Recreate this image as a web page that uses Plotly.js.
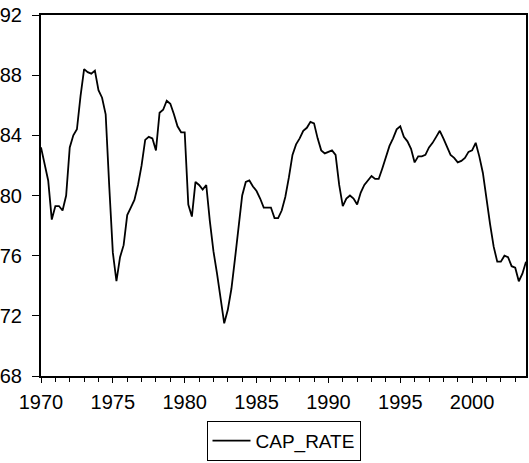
<!DOCTYPE html>
<html>
<head>
<meta charset="utf-8">
<script src="https://cdn.plot.ly/plotly-3.0.1.min.js"></script>
<style>html,body{margin:0;padding:0;background:#fff;}#chart{width:529px;height:463px;}</style>
</head>
<body>
<div id="chart"></div>
<script>
// Quarterly CAP_RATE, 1970Q1 .. 2003Q4
const startYear = 1970;
const seriesName = "CAP_RATE";
const capRate = [
  83.2, 82.2, 81.0, 78.4,   // 1970
  79.3, 79.3, 79.0, 80.0,   // 1971
  83.2, 84.0, 84.4, 86.6,   // 1972
  88.4, 88.2, 88.1, 88.3,   // 1973
  87.0, 86.5, 85.4, 80.6,   // 1974
  76.2, 74.3, 75.9, 76.7,   // 1975
  78.7, 79.2, 79.7, 80.7,   // 1976
  82.0, 83.7, 83.9, 83.8,   // 1977
  83.0, 85.5, 85.7, 86.3,   // 1978
  86.1, 85.4, 84.6, 84.2,   // 1979
  84.2, 79.4, 78.6, 80.9,   // 1980
  80.7, 80.4, 80.7, 78.3,   // 1981
  76.3, 74.8, 73.2, 71.5,   // 1982
  72.4, 73.8, 75.8, 78.1,   // 1983
  80.0, 80.9, 81.0, 80.6,   // 1984
  80.3, 79.8, 79.2, 79.2,   // 1985
  79.2, 78.5, 78.5, 79.0,   // 1986
  79.9, 81.2, 82.7, 83.4,   // 1987
  83.8, 84.3, 84.5, 84.9,   // 1988
  84.8, 83.8, 83.0, 82.8,   // 1989
  82.9, 83.0, 82.7, 80.7,   // 1990
  79.3, 79.8, 80.0, 79.8,   // 1991
  79.4, 80.2, 80.7, 81.0,   // 1992
  81.3, 81.1, 81.1, 81.8,   // 1993
  82.6, 83.3, 83.8, 84.4,   // 1994
  84.6, 83.9, 83.6, 83.1,   // 1995
  82.2, 82.6, 82.6, 82.7,   // 1996
  83.2, 83.5, 83.9, 84.3,   // 1997
  83.8, 83.3, 82.7, 82.5,   // 1998
  82.2, 82.3, 82.5, 82.9,   // 1999
  83.0, 83.5, 82.6, 81.5,   // 2000
  79.7, 78.1, 76.6, 75.6,   // 2001
  75.6, 76.0, 75.9, 75.3,   // 2002
  75.2, 74.3, 74.8, 75.6    // 2003
];
const xTickVals = [1970, 1975, 1980, 1985, 1990, 1995, 2000];
const xTickText = ["1970", "1975", "1980", "1985", "1990", "1995", "2000"];
const yTickVals = [68, 72, 76, 80, 84, 88, 92];

const xs = capRate.map((v, i) => startYear + i / 4);

const font = {family: "Liberation Sans, Arial, sans-serif", size: 20, color: "#000"};
const legendFont = {family: "Liberation Sans, Arial, sans-serif", size: 19, color: "#000"};

Plotly.newPlot("chart", [{
  type: "scatter",
  mode: "lines",
  x: xs,
  y: capRate,
  name: seriesName,
  line: {color: "#000", width: 1.8},
  showlegend: true
}], {
  width: 529, height: 463,
  margin: {l: 41, r: 3, t: 15, b: 87, autoexpand: false},
  paper_bgcolor: "#fff",
  plot_bgcolor: "#fff",
  font: font,
  showlegend: true,
  xaxis: {
    range: [1970, xs[xs.length - 1]],
    tickvals: xTickVals, ticktext: xTickText,
    ticks: "outside", ticklen: 5, tickwidth: 1, tickcolor: "#000",
    ticklabelstandoff: 2,
    minor: {dtick: 1, tick0: 1970, ticks: "outside", ticklen: 4, tickwidth: 1, tickcolor: "#000", showgrid: false},
    showline: true, linecolor: "#000", linewidth: 2, mirror: true,
    showgrid: false, zeroline: false,
    tickfont: font
  },
  yaxis: {
    range: [68, 92],
    tickvals: yTickVals,
    ticks: "outside", ticklen: 7, tickwidth: 1, tickcolor: "#000",
    ticklabelstandoff: 6,
    showline: true, linecolor: "#000", linewidth: 2, mirror: true,
    showgrid: false, zeroline: false,
    tickfont: font
  },
  legend: {
    orientation: "h",
    x: 0.5, xanchor: "center",
    y: -0.235, yanchor: "bottom",
    bordercolor: "#000", borderwidth: 1,
    bgcolor: "#fff",
    itemwidth: 38,
    font: legendFont
  }
}, {staticPlot: true});
</script>
</body>
</html>
